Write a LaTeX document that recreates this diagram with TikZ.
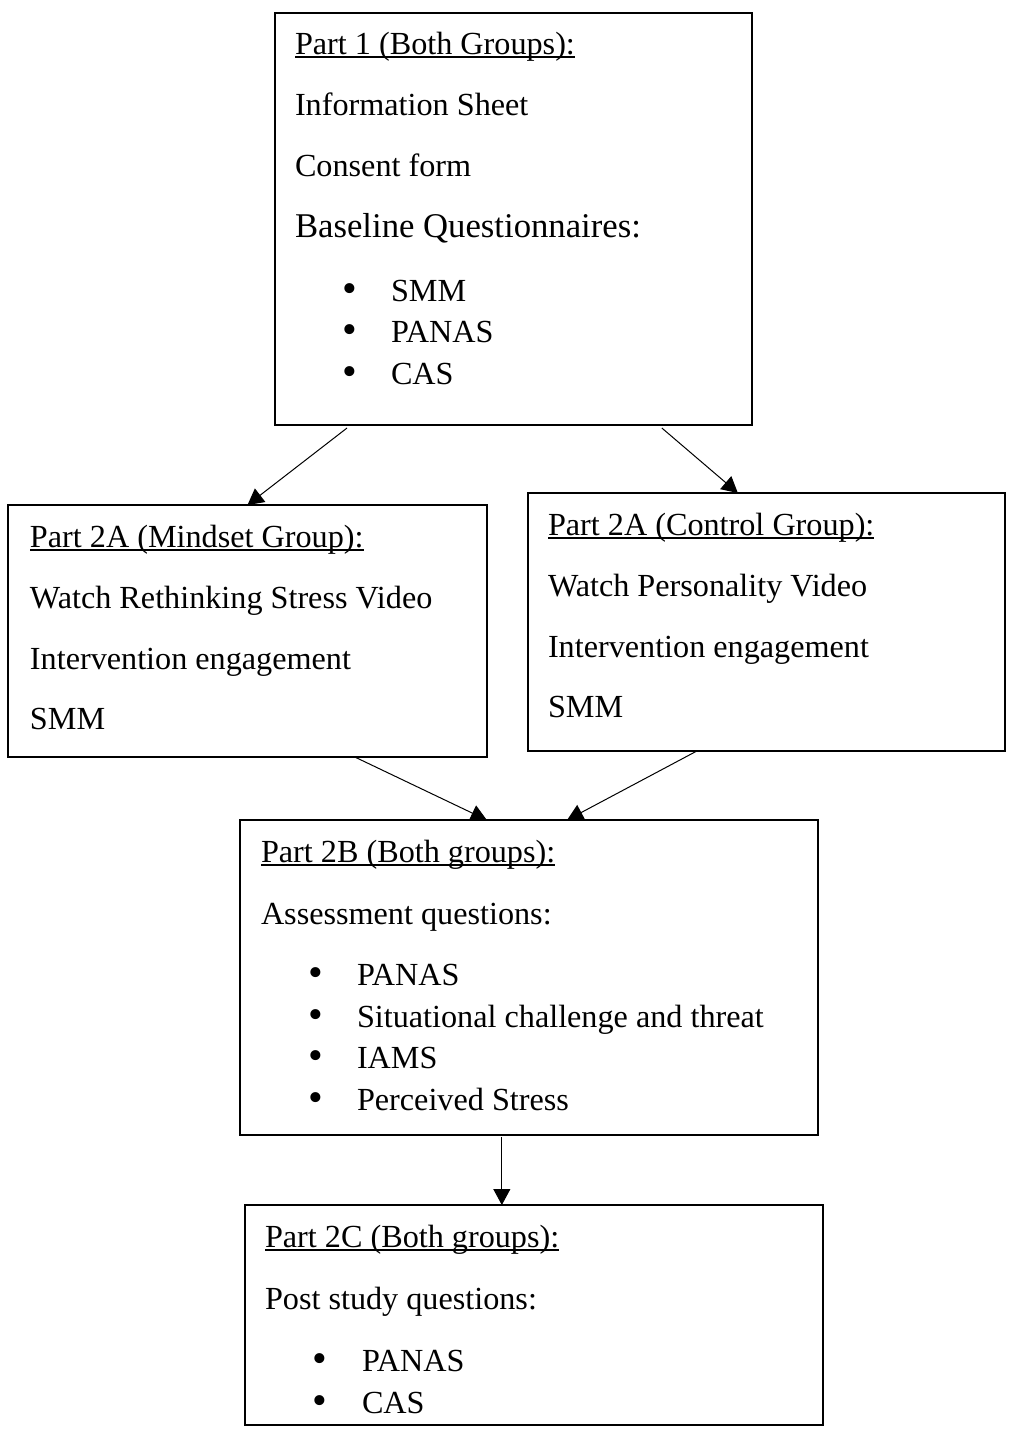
\documentclass[tikz,border=0pt]{standalone}
\usepackage{fontspec}
\setmainfont{Liberation Serif}
\usetikzlibrary{calc,arrows.meta}

\begin{document}
\begin{tikzpicture}[x=0.5pt,y=-0.5pt,
  box/.style={draw,line width=1pt,rectangle,inner sep=0pt,outer sep=0pt},
  txt/.style={anchor=base west,inner sep=0pt,outer sep=0pt,
    font=\fontsize{16.1}{19}\selectfont},
  bigtxt/.style={txt,font=\fontsize{17.35}{20.5}\selectfont},
  dot/.style={anchor=base,inner sep=0pt,outer sep=0pt,
    font=\fontsize{21}{19}\selectfont},
  uline/.style={line width=1pt},
  arr/.style={line width=0.5pt,-{Triangle[length=8pt,width=8.5pt]}}]

\useasboundingbox (0,0) rectangle (1009,1432);

% boxes
\node[box,minimum width=238.5pt,minimum height=206pt]   (b1)  at (513.5,219)  {};
\node[box,minimum width=239.5pt,minimum height=126pt]   (b2l) at (247.5,631)  {};
\node[box,minimum width=238.5pt,minimum height=129pt]   (b2r) at (766.5,622)  {};
\node[box,minimum width=289pt,minimum height=157.5pt]   (b3)  at (529,977.5)  {};
\node[box,minimum width=289pt,minimum height=110pt]     (b4)  at (534,1315)   {};

% Part 1
\node[txt] (h1) at (295,54) {Part 1 (Both Groups):};
\draw[uline] ($(h1.base west)+(0,3)$) -- ($(h1.base east)+(0,3)$);
\node[txt] (p1a) at (295,115) {Information Sheet};
\node[txt] (p1b) at (295,176) {Consent form};
\node[bigtxt] (p1c) at (295,237) {Baseline Questionnaires:};
\node[dot] (d1a) at (350,302) {•};
\node[txt] (p1d) at (391,301) {SMM};
\node[dot] (d1b) at (350,343) {•};
\node[txt] (p1e) at (391,342) {PANAS};
\node[dot] (d1c) at (350,385) {•};
\node[txt] (p1f) at (391,384) {CAS};

% Part 2A, mindset group
\node[txt] (h2l) at (30,547) {Part 2A (Mindset Group):};
\draw[uline] ($(h2l.base west)+(0,3)$) -- ($(h2l.base east)+(0,3)$);
\node[txt] (p2la) at (30,608) {Watch Rethinking Stress Video};
\node[txt] (p2lb) at (30,669) {Intervention engagement};
\node[txt] (p2lc) at (30,729) {SMM};

% Part 2A, control group
\node[txt] (h2r) at (548,535) {Part 2A (Control Group):};
\draw[uline] ($(h2r.base west)+(0,3)$) -- ($(h2r.base east)+(0,3)$);
\node[txt] (p2ra) at (548,596) {Watch Personality Video};
\node[txt] (p2rb) at (548,657) {Intervention engagement};
\node[txt] (p2rc) at (548,717) {SMM};

% Part 2B
\node[txt] (h3) at (261,862) {Part 2B (Both groups):};
\draw[uline] ($(h3.base west)+(0,3)$) -- ($(h3.base east)+(0,3)$);
\node[txt] (p3a) at (261,924) {Assessment questions:};
\node[dot] (d3a) at (316,986) {•};
\node[txt] (p3b) at (357,985) {PANAS};
\node[dot] (d3b) at (316,1028) {•};
\node[txt] (p3c) at (357,1027) {Situational challenge and threat};
\node[dot] (d3c) at (316,1069) {•};
\node[txt] (p3d) at (357,1068) {IAMS};
\node[dot] (d3d) at (316,1111) {•};
\node[txt] (p3e) at (357,1110) {Perceived Stress};

% Part 2C
\node[txt] (h4) at (265,1247) {Part 2C (Both groups):};
\draw[uline] ($(h4.base west)+(0,3)$) -- ($(h4.base east)+(0,3)$);
\node[txt] (p4a) at (265,1309) {Post study questions:};
\node[dot] (d4a) at (320,1372) {•};
\node[txt] (p4b) at (362,1371) {PANAS};
\node[dot] (d4b) at (320,1414) {•};
\node[txt] (p4c) at (362,1413) {CAS};

% connectors
\draw[arr] ($(b1.south west)!0.151!(b1.south east)+(0,3)$) -- (b2l.north);
\draw[arr] ($(b1.south west)!0.811!(b1.south east)+(0,3)$) -- ($(b2r.north west)!0.44!(b2r.north east)$);
\draw[arr] ($(b2l.south west)!0.724!(b2l.south east)$) -- ($(b3.north west)!0.427!(b3.north east)$);
\draw[arr] ($(b2r.south west)!0.354!(b2r.south east)$) -- ($(b3.north west)!0.566!(b3.north east)$);
\coordinate (c3) at ($(b3.south west)!0.453!(b3.south east)+(0,2)$);
\draw[arr] (c3) -- (c3 |- b4.north);

\end{tikzpicture}
\end{document}
